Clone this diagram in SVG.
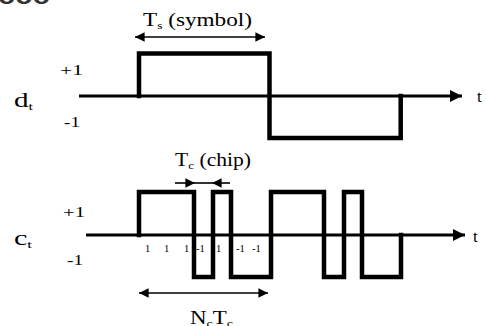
<svg xmlns="http://www.w3.org/2000/svg" width="486" height="326" viewBox="0 0 486 326">
<style>
.lbl{font-family:"Liberation Serif","Times New Roman",serif;fill:#000}
.sub{font-size:11px}
.wave{fill:none;stroke:#000;stroke-width:4.5;stroke-linejoin:miter;stroke-linecap:square}
.axis{fill:none;stroke:#000;stroke-width:3}
.dim{fill:none;stroke:#000;stroke-width:1.6}
.chip{font-family:"Liberation Serif","Times New Roman",serif;font-size:10.5px;fill:#000}
</style>
<defs>
<marker id="ax" viewBox="0 0 10 10" refX="10" refY="5" markerWidth="4.8" markerHeight="4" markerUnits="strokeWidth" orient="auto">
<path d="M0,0 L10,5 L0,10 z" fill="#000"/>
</marker>
<marker id="dh" viewBox="0 0 10 10" refX="10" refY="5" markerWidth="8" markerHeight="6" markerUnits="strokeWidth" orient="auto-start-reverse">
<path d="M0,0 L10,5 L0,10 z" fill="#000"/>
</marker>
</defs>

<text x="-2" y="4" style="font-family:'Liberation Sans',Arial,sans-serif;font-weight:bold;font-size:24px" fill="#333" textLength="52" lengthAdjust="spacingAndGlyphs">ooo</text>

<g id="connectors">
<line class="axis" x1="79" y1="96" x2="462" y2="96" marker-end="url(#ax)"/>
<line class="axis" x1="86" y1="235" x2="465" y2="235" marker-end="url(#ax)"/>
<line class="dim" x1="135" y1="37" x2="265" y2="37" marker-start="url(#dh)" marker-end="url(#dh)"/>
<line class="dim" x1="139" y1="293" x2="268" y2="293" marker-start="url(#dh)" marker-end="url(#dh)"/>
<line class="dim" x1="175" y1="183" x2="195" y2="183" marker-end="url(#dh)"/>
<line class="dim" x1="230" y1="183" x2="212" y2="183" marker-end="url(#dh)"/>
<line class="dim" x1="195" y1="183" x2="212" y2="183"/>
</g>

<g id="data-signal">
<path class="wave" d="M139,96 V53.5 H269.5 V138 H400.7 V96"/>
<text class="lbl" x="14" y="107" style="font-size:20px" textLength="19" lengthAdjust="spacingAndGlyphs">d<tspan class="sub" dy="3">t</tspan></text>
<text class="lbl" x="60" y="75" style="font-size:15px" textLength="23" lengthAdjust="spacingAndGlyphs">+1</text>
<text class="lbl" x="64" y="127" style="font-size:15px" textLength="16" lengthAdjust="spacingAndGlyphs">-1</text>
<text class="lbl" x="477" y="102" style="font-size:17px">t</text>
</g>

<g id="symbol-period">
<text class="lbl" x="143" y="26" style="font-size:19px" textLength="109" lengthAdjust="spacingAndGlyphs">T<tspan class="sub" dy="3">s</tspan><tspan dy="-3"> (symbol)</tspan></text>
</g>

<g id="chip-signal">
<path class="wave" d="M139,235 V192 H194 V277 H213 V192 H231 V277 H271 V192 H324 V277 H344 V192 H362 V277 H401 V235"/>
<text class="lbl" x="14" y="245" style="font-size:20px" textLength="18" lengthAdjust="spacingAndGlyphs">c<tspan class="sub" dy="3">t</tspan></text>
<text class="lbl" x="63" y="217" style="font-size:15px" textLength="22" lengthAdjust="spacingAndGlyphs">+1</text>
<text class="lbl" x="67" y="265" style="font-size:15px" textLength="16" lengthAdjust="spacingAndGlyphs">-1</text>
<text class="lbl" x="473" y="242" style="font-size:17px">t</text>
<text class="chip" x="145" y="252">1</text>
<text class="chip" x="164" y="252">1</text>
<text class="chip" x="184" y="252">1</text>
<text class="chip" x="196" y="252">-1</text>
<text class="chip" x="216" y="252">1</text>
<text class="chip" x="236" y="252">-1</text>
<text class="chip" x="252" y="252">-1</text>
</g>

<g id="chip-period">
<text class="lbl" x="175" y="166" style="font-size:18px" textLength="76" lengthAdjust="spacingAndGlyphs">T<tspan class="sub" dy="3">c</tspan><tspan dy="-3"> (chip)</tspan></text>
</g>

<g id="spreading-length">
<text class="lbl" x="190" y="324" style="font-size:18px" textLength="43" lengthAdjust="spacingAndGlyphs">N<tspan class="sub" dy="3">c</tspan><tspan dy="-3">T</tspan><tspan class="sub" dy="3">c</tspan></text>
</g>
</svg>
